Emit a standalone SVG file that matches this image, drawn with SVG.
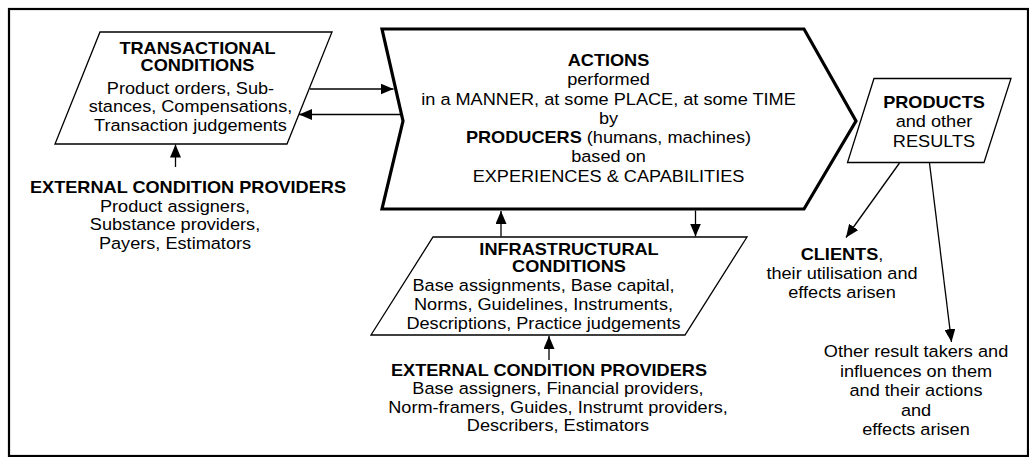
<svg xmlns="http://www.w3.org/2000/svg" width="1029" height="457" viewBox="0 0 1029 457">
<defs>
<marker id="ah" markerUnits="userSpaceOnUse" markerWidth="13" markerHeight="11" refX="13" refY="5.5" orient="auto">
<path d="M0,0 L13,5.5 L0,11 z" fill="#000"/>
</marker>
<style>
text{font-family:"Liberation Sans",Arial,sans-serif;font-size:16.5px;fill:#000;text-anchor:middle}
.b{font-weight:bold}
.shape{fill:#fff;stroke:#000;stroke-width:1.3}
.big{fill:#fff;stroke:#000;stroke-width:3.2;stroke-linejoin:miter}
.con line{stroke:#000;stroke-width:1.3;marker-end:url(#ah)}
</style>
</defs>
<rect width="1029" height="457" fill="#fff"/>
<rect x="9" y="9" width="1019" height="447" fill="none" stroke="#000" stroke-width="2.2"/>

<g id="transactional">
<polygon class="shape" points="100,32 332,32 287,144 55,144"/>
<g transform="translate(197.5 0) scale(1.1 1)">
<text class="b" x="0" y="54">TRANSACTIONAL</text>
<text class="b" x="0" y="71">CONDITIONS</text>
</g>
<g transform="translate(190.5 0) scale(1.1 1)">
<text x="0" y="94">Product orders, Sub-</text>
<text x="0" y="112.5">stances, Compensations,</text>
<text x="0" y="131">Transaction judgements</text>
</g>
</g>

<g id="ext-left">
<g transform="translate(188 0) scale(1.1 1)">
<text class="b" x="0" y="193">EXTERNAL CONDITION PROVIDERS</text>
</g>
<g transform="translate(175 0) scale(1.1 1)">
<text x="0" y="212">Product assigners,</text>
<text x="0" y="230.5">Substance providers,</text>
<text x="0" y="249">Payers, Estimators</text>
</g>
</g>

<g id="actions">
<polygon class="big" points="382,29 804,29 856,121 804,209 382,209 403,121"/>
<g transform="translate(608.5 0) scale(1.1 1)">
<text class="b" x="0" y="66">ACTIONS</text>
<text x="0" y="85.3">performed</text>
<text x="0" y="104.6">in a MANNER, at some PLACE, at some TIME</text>
<text x="0" y="123.9">by</text>
<text x="0" y="143.2"><tspan class="b">PRODUCERS</tspan> (humans, machines)</text>
<text x="0" y="162.5">based on</text>
<text x="0" y="181.8">EXPERIENCES &amp; CAPABILITIES</text>
</g>
</g>

<g id="infrastructural">
<polygon class="shape" points="433,237 747,237 685,335 371,335"/>
<g transform="translate(569 0) scale(1.1 1)">
<text class="b" x="0" y="255">INFRASTRUCTURAL</text>
<text class="b" x="0" y="272.5">CONDITIONS</text>
</g>
<g transform="translate(543.5 0) scale(1.1 1)">
<text x="0" y="291.5">Base assignments, Base capital,</text>
<text x="0" y="310.5">Norms, Guidelines, Instruments,</text>
<text x="0" y="329.5">Descriptions, Practice judgements</text>
</g>
</g>

<g id="ext-bottom">
<g transform="translate(549 0) scale(1.1 1)">
<text class="b" x="0" y="376">EXTERNAL CONDITION PROVIDERS</text>
</g>
<g transform="translate(558 0) scale(1.1 1)">
<text x="0" y="394.5">Base assigners, Financial providers,</text>
<text x="0" y="413">Norm-framers, Guides, Instrumt providers,</text>
<text x="0" y="431.5">Describers, Estimators</text>
</g>
</g>

<g id="products">
<polygon class="shape" points="874,78.5 1011,78.5 984,162.5 847.5,162.5"/>
<g transform="translate(934 0) scale(1.1 1)">
<text class="b" x="0" y="108.5">PRODUCTS</text>
<text x="0" y="127.5">and other</text>
<text x="0" y="147">RESULTS</text>
</g>
</g>

<g id="clients">
<g transform="translate(842 0) scale(1.1 1)">
<text x="0" y="260.5"><tspan class="b">CLIENTS</tspan>,</text>
<text x="0" y="279.5">their utilisation and</text>
<text x="0" y="298.5">effects arisen</text>
</g>
</g>

<g id="others">
<g transform="translate(916 0) scale(1.1 1)">
<text x="0" y="357.5">Other result takers and</text>
<text x="0" y="377">influences on them</text>
<text x="0" y="396.5">and their actions</text>
<text x="0" y="416">and</text>
<text x="0" y="435.5">effects arisen</text>
</g>
</g>

<g id="connectors" class="con">
<line x1="310" y1="89" x2="393.5" y2="89"/>
<line x1="402" y1="114.5" x2="299" y2="114.5"/>
<line x1="175.5" y1="167" x2="175.5" y2="144.5"/>
<line x1="501" y1="236.5" x2="501" y2="211"/>
<line x1="695.5" y1="210.5" x2="695.5" y2="236.5"/>
<line x1="549" y1="360" x2="549" y2="336"/>
<line x1="899.5" y1="163" x2="846" y2="237.5"/>
<line x1="929.5" y1="163" x2="951.5" y2="342"/>
</g>
</svg>
